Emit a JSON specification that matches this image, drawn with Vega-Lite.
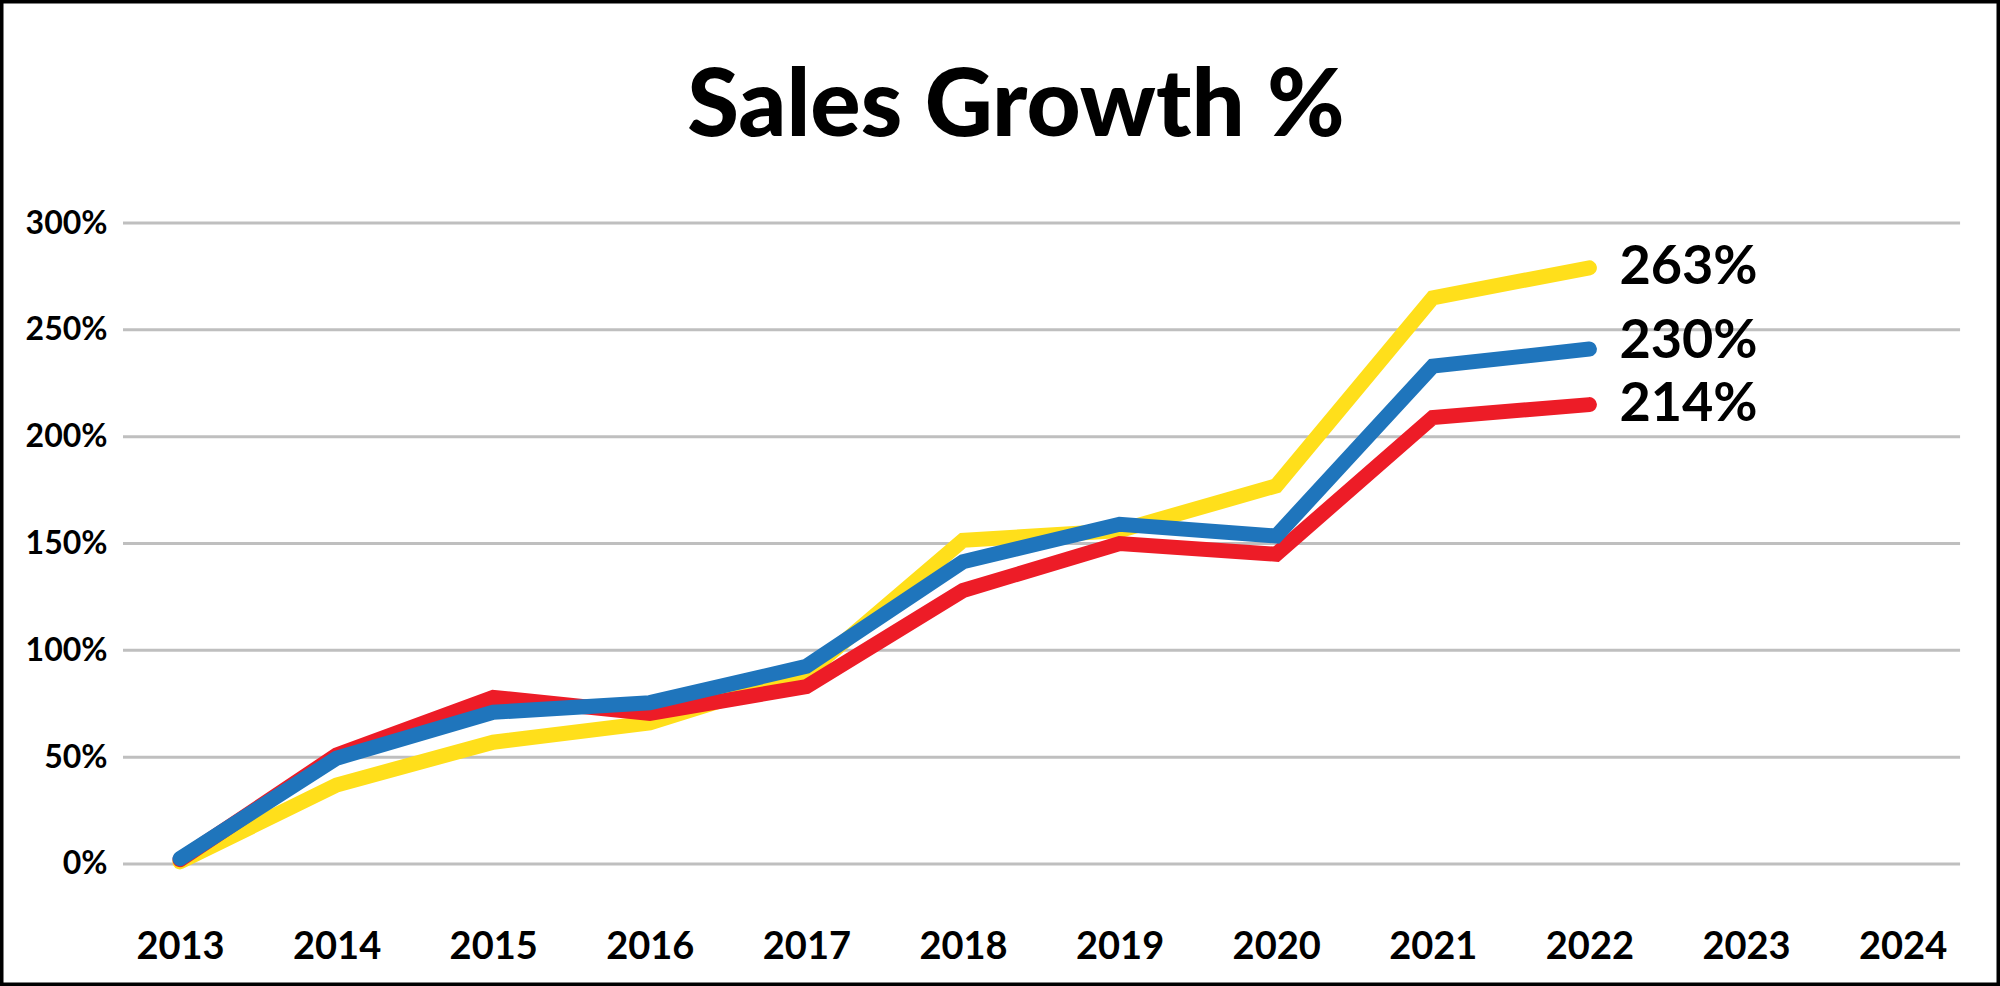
{
  "$schema": "https://vega.github.io/schema/vega-lite/v6.json",
  "width": 2000,
  "height": 986,
  "autosize": "none",
  "padding": 0,
  "background": "white",
  "title": {
    "text": "Sales Growth %",
    "font": "Lato",
    "fontSize": 94,
    "fontWeight": 900,
    "color": "black",
    "anchor": "middle",
    "dx": 16,
    "offset": -156
  },
  "datasets": {
    "sales": [
      {"year": 2013, "series": "Series A", "growth": 1},
      {"year": 2014, "series": "Series A", "growth": 37},
      {"year": 2015, "series": "Series A", "growth": 57},
      {"year": 2016, "series": "Series A", "growth": 66},
      {"year": 2017, "series": "Series A", "growth": 89},
      {"year": 2018, "series": "Series A", "growth": 151.5},
      {"year": 2019, "series": "Series A", "growth": 156},
      {"year": 2020, "series": "Series A", "growth": 177},
      {"year": 2021, "series": "Series A", "growth": 265},
      {"year": 2022, "series": "Series A", "growth": 279, "label": "263%"},
      {"year": 2013, "series": "Series B", "growth": 2},
      {"year": 2014, "series": "Series B", "growth": 51},
      {"year": 2015, "series": "Series B", "growth": 78},
      {"year": 2016, "series": "Series B", "growth": 70.5},
      {"year": 2017, "series": "Series B", "growth": 83},
      {"year": 2018, "series": "Series B", "growth": 128},
      {"year": 2019, "series": "Series B", "growth": 150},
      {"year": 2020, "series": "Series B", "growth": 145},
      {"year": 2021, "series": "Series B", "growth": 209},
      {"year": 2022, "series": "Series B", "growth": 215, "label": "214%"},
      {"year": 2013, "series": "Series C", "growth": 2.5},
      {"year": 2014, "series": "Series C", "growth": 49.5},
      {"year": 2015, "series": "Series C", "growth": 71},
      {"year": 2016, "series": "Series C", "growth": 75.5},
      {"year": 2017, "series": "Series C", "growth": 92.5},
      {"year": 2018, "series": "Series C", "growth": 141.5},
      {"year": 2019, "series": "Series C", "growth": 159},
      {"year": 2020, "series": "Series C", "growth": 153.5},
      {"year": 2021, "series": "Series C", "growth": 233},
      {"year": 2022, "series": "Series C", "growth": 241, "label": "230%"}
    ],
    "grid": [
      {"tick": 0}, {"tick": 50}, {"tick": 100}, {"tick": 150},
      {"tick": 200}, {"tick": 250}, {"tick": 300}
    ]
  },
  "layer": [
    {
      "data": {"name": "grid"},
      "mark": {"type": "rule", "color": "#BFBFBF", "strokeWidth": 3},
      "encoding": {
        "x": {"datum": 2012.636, "type": "quantitative", "scale": {"domain": [2011.8506, 2024.622], "nice": false, "zero": false}, "title": null},
        "x2": {"datum": 2024.367},
        "y": {"field": "tick", "type": "quantitative", "scale": {"domain": [-57.1, 404.37], "nice": false, "zero": false}, "title": null}
      }
    },
    {
      "data": {"name": "sales"},
      "mark": {"type": "line", "strokeWidth": 15, "strokeCap": "round", "strokeJoin": "miter"},
      "encoding": {
        "x": {
          "field": "year",
          "type": "quantitative",
          "scale": {"domain": [2011.8506, 2024.622], "nice": false, "zero": false},
          "title": null,
          "axis": {
            "orient": "bottom",
            "offset": -58,
            "values": [2013, 2014, 2015, 2016, 2017, 2018, 2019, 2020, 2021, 2022, 2023, 2024],
            "format": "d",
            "labelFontSize": 38,
            "labelPadding": 0
          }
        },
        "y": {
          "field": "growth",
          "type": "quantitative",
          "scale": {"domain": [-57.1, 404.37], "nice": false, "zero": false},
          "title": null,
          "axis": {
            "orient": "left",
            "offset": -123,
            "values": [0, 50, 100, 150, 200, 250, 300],
            "labelExpr": "datum.value + '%'",
            "labelFontSize": 32,
            "labelPadding": 16
          }
        },
        "color": {
          "field": "series",
          "type": "nominal",
          "scale": {"domain": ["Series A", "Series B", "Series C"], "range": ["#FFDF1B", "#ED1C27", "#1F75BC"]},
          "legend": null
        }
      }
    },
    {
      "data": {"name": "sales"},
      "transform": [{"filter": "datum.label != null && datum.series != 'Series C'"}],
      "mark": {"type": "text", "align": "left", "baseline": "middle", "dx": 30, "font": "Lato", "fontWeight": "bold", "fontSize": 54, "color": "black"},
      "encoding": {
        "x": {"field": "year", "type": "quantitative", "scale": {"domain": [2011.8506, 2024.622], "nice": false, "zero": false}, "title": null},
        "y": {"field": "growth", "type": "quantitative", "scale": {"domain": [-57.1, 404.37], "nice": false, "zero": false}, "title": null},
        "text": {"field": "label"}
      }
    },
    {
      "data": {"name": "sales"},
      "transform": [{"filter": "datum.label != null && datum.series == 'Series C'"}],
      "mark": {"type": "text", "align": "left", "baseline": "middle", "dx": 30, "dy": -7, "font": "Lato", "fontWeight": "bold", "fontSize": 54, "color": "black"},
      "encoding": {
        "x": {"field": "year", "type": "quantitative", "scale": {"domain": [2011.8506, 2024.622], "nice": false, "zero": false}, "title": null},
        "y": {"field": "growth", "type": "quantitative", "scale": {"domain": [-57.1, 404.37], "nice": false, "zero": false}, "title": null},
        "text": {"field": "label"}
      }
    }
  ],
  "config": {
    "view": {"stroke": "black", "strokeWidth": 7},
    "axis": {
      "grid": false,
      "domain": false,
      "ticks": false,
      "tickSize": 0,
      "labelFont": "Lato",
      "labelFontWeight": "bold",
      "labelColor": "black"
    }
  }
}
